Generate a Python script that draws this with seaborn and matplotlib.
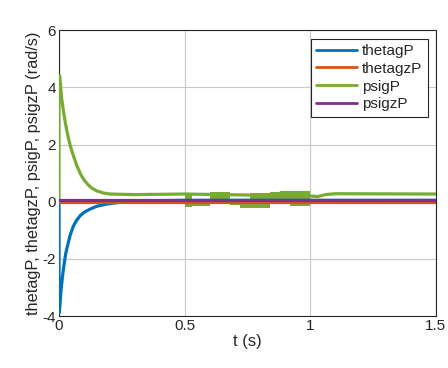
import numpy as np
import pandas as pd
import seaborn as sns
import matplotlib
matplotlib.use("Agg")
import matplotlib.pyplot as plt

# ---- data ----
theta_t = [0.0, 0.0, 0.003, 0.008, 0.014, 0.020, 0.027, 0.035, 0.045, 0.057, 0.070, 0.085, 0.100, 0.123, 0.150, 0.190, 0.250, 0.300, 0.500, 1.000, 1.500]
theta_v = [0.0, -3.9, -3.7, -3.1, -2.6, -2.2, -1.8, -1.5, -1.15, -0.86, -0.65, -0.48, -0.37, -0.26, -0.16, -0.08, -0.01, 0.03, 0.05, 0.05, 0.05]

psi_t = [0.0, 0.0, 0.003, 0.010, 0.018, 0.026, 0.035, 0.045, 0.057, 0.070, 0.085, 0.100, 0.115, 0.130, 0.150, 0.175, 0.200, 0.300, 0.500, 0.500, 1.000, 1.030, 1.060, 1.100, 1.500]
psi_v = [0.0, 4.4, 4.4, 3.65, 3.15, 2.72, 2.32, 1.95, 1.62, 1.28, 0.98, 0.76, 0.60, 0.48, 0.38, 0.31, 0.27, 0.25, 0.27, 0.27, 0.20, 0.18, 0.25, 0.28, 0.27]

thetaz_t = [0.0, 1.5]
thetaz_v = [0.0, 0.0]
psiz_t = [0.0, 1.5]
psiz_v = [0.07, 0.07]

# chattering bands of psigP between 0.5 s and 1 s: start, end, low, high
band_start = [0.500, 0.528, 0.600, 0.680, 0.720, 0.760, 0.840, 0.880, 0.920]
band_end   = [0.528, 0.600, 0.680, 0.720, 0.760, 0.840, 0.880, 0.920, 1.000]
band_low   = [-0.20, -0.15, -0.08, -0.10, -0.22, -0.22, 0.05, 0.08, -0.15]
band_high  = [0.30, 0.05, 0.35, 0.10, 0.00, 0.30, 0.35, 0.38, 0.38]

names = ["thetagP", "thetagzP", "psigP", "psigzP"]
colors = ["#0072BD", "#D95319", "#77AC30", "#7E2F8E"]

frames = []
for name, t, v in [("thetagP", theta_t, theta_v), ("thetagzP", thetaz_t, thetaz_v),
                   ("psigP", psi_t, psi_v), ("psigzP", psiz_t, psiz_v)]:
    frames.append(pd.DataFrame({"t": t, "v": v, "series": name}))
df = pd.concat(frames, ignore_index=True)

sns.set_theme(style="whitegrid")
plt.rcParams["font.family"] = ["Liberation Sans", "DejaVu Sans"]

fig = plt.figure(figsize=(4.48, 3.68), dpi=100)
ax = fig.add_axes([0.1317, 0.141, 0.8413, 0.777])

green = colors[2]
for s, e, lo, hi in zip(band_start, band_end, band_low, band_high):
    ax.fill_between([s, e], [lo, lo], [hi, hi], color=green, linewidth=0, zorder=2)

sns.lineplot(data=df, x="t", y="v", hue="series", hue_order=names, palette=colors,
             sort=False, estimator=None, linewidth=2.3, ax=ax, zorder=3)

ax.set_xlim(0, 1.5)
ax.set_ylim(-4, 6)
ax.set_xticks([0, 0.5, 1, 1.5])
ax.set_xticklabels(["0", "0.5", "1", "1.5"])
ax.set_yticks([-4, -2, 0, 2, 4, 6])
ax.set_yticklabels(["-4", "-2", "0", "2", "4", "6"])
ax.tick_params(labelsize=11, colors="#262626", pad=2, length=0)
ax.grid(True, color="#c8c8c8", linewidth=0.8)
for sp in ax.spines.values():
    sp.set_color("#262626")
    sp.set_linewidth(0.8)
ax.set_facecolor("white")
ax.set_xlabel("t (s)", fontsize=12, color="#262626", labelpad=1)
ax.set_ylabel("thetagP, thetagzP, psigP, psigzP (rad/s)", fontsize=11.8, color="#262626", labelpad=1)

leg = ax.legend(loc="upper right", fontsize=11, frameon=True, fancybox=False,
                edgecolor="#262626", framealpha=1, handlelength=2.7, borderpad=0.35,
                labelspacing=0.25, handletextpad=0.3, borderaxespad=0.55)
leg.get_frame().set_linewidth(0.8)
for line in leg.get_lines():
    line.set_linewidth(2)

fig.savefig("out.png", dpi=100)
